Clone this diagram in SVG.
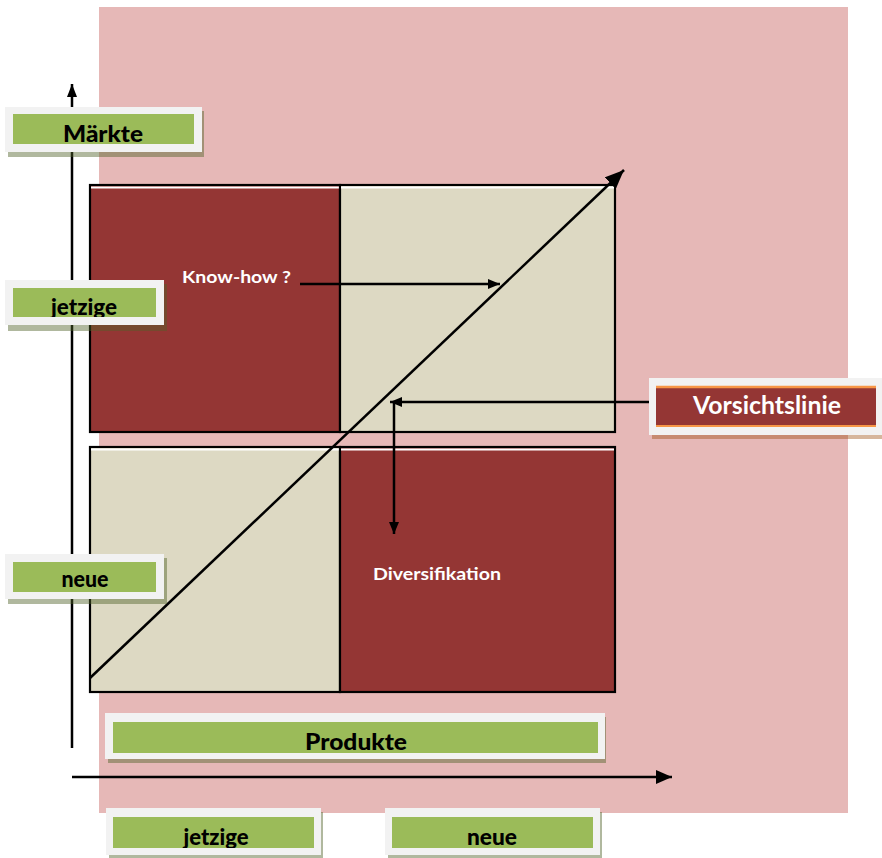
<svg xmlns="http://www.w3.org/2000/svg" width="882" height="858" viewBox="0 0 882 858">
  <style>
    .bg { fill: #E6B8B7; }
    .red { fill: #943634; stroke: #000; stroke-width: 2.2; }
    .beige { fill: #DDD9C3; stroke: #000; stroke-width: 2.2; }
    .hl { stroke: #fff; stroke-width: 2; }
    .outer { fill: #F2F2F2; }
    .shadow { fill: #4F6228; opacity: 0.45; }
    .shadowR { fill: #984807; opacity: 0.4; }
    .green { fill: #9BBB59; }
    .lbl { font-family: Lato, "Liberation Sans", sans-serif; font-weight: 900; fill: #000; text-anchor: middle; }
    .wht { font-family: Lato, "Liberation Sans", sans-serif; font-weight: bold; fill: #fff; }
    .ln { stroke: #000; stroke-width: 2.5; fill: none; }
  </style>
  <defs>
    <marker id="aX" markerUnits="userSpaceOnUse" markerWidth="16" markerHeight="14" refX="16" refY="7" orient="auto">
      <path d="M0,0 L16,7 L0,14 z" fill="#000"/>
    </marker>
    <marker id="aY" markerUnits="userSpaceOnUse" markerWidth="13" markerHeight="10" refX="13" refY="5" orient="auto">
      <path d="M0,0 L13,5 L0,10 z" fill="#000"/>
    </marker>
    <marker id="aD" markerUnits="userSpaceOnUse" markerWidth="19" markerHeight="16" refX="19" refY="8" orient="auto">
      <path d="M0,0 L19,8 L0,16 z" fill="#000"/>
    </marker>
    <marker id="aS" markerUnits="userSpaceOnUse" markerWidth="12" markerHeight="10" refX="12" refY="5" orient="auto">
      <path d="M0,0 L12,5 L0,10 z" fill="#000"/>
    </marker>
    <clipPath id="cM"><rect x="13" y="114" width="181" height="30"/></clipPath>
    <clipPath id="cJ"><rect x="13" y="288" width="143" height="29"/></clipPath>
    <clipPath id="cN"><rect x="13" y="562" width="143" height="30"/></clipPath>
    <clipPath id="cP"><rect x="113" y="722" width="485" height="31"/></clipPath>
    <clipPath id="cBJ"><rect x="113" y="817" width="201" height="31"/></clipPath>
    <clipPath id="cBN"><rect x="392" y="817" width="201" height="31"/></clipPath>
  </defs>

  <rect class="bg" x="99" y="7" width="749" height="806"/>

  <g id="matrix">
    <g id="cell-tl">
      <rect class="red" x="90" y="185" width="250" height="247"/>
      <line class="hl" x1="91" y1="187.5" x2="339" y2="187.5"/>
    </g>
    <g id="cell-tr">
      <rect class="beige" x="340" y="185" width="275" height="247"/>
      <line class="hl" x1="341" y1="187.5" x2="614" y2="187.5"/>
    </g>
    <g id="cell-bl">
      <rect class="beige" x="90" y="447" width="250" height="245"/>
      <line class="hl" x1="91" y1="449.5" x2="339" y2="449.5"/>
    </g>
    <g id="cell-br">
      <rect class="red" x="340" y="447" width="275" height="245"/>
      <line class="hl" x1="341" y1="449.5" x2="614" y2="449.5"/>
    </g>
  </g>

  <g id="connectors">
    <line class="ln" x1="72" y1="748" x2="72" y2="84" marker-end="url(#aY)"/>
    <line class="ln" x1="72" y1="777" x2="672" y2="777" marker-end="url(#aX)"/>
    <line class="ln" x1="90" y1="678" x2="624" y2="170" marker-end="url(#aD)"/>
    <line class="ln" x1="300" y1="284" x2="500" y2="284" marker-end="url(#aS)"/>
    <line class="ln" x1="652" y1="402" x2="390" y2="402" marker-end="url(#aS)"/>
    <line class="ln" x1="394" y1="402" x2="394" y2="534" marker-end="url(#aS)"/>
  </g>

  <g id="label-know-how">
    <text class="wht" x="182" y="283" font-size="17" textLength="109" lengthAdjust="spacingAndGlyphs">Know-how ?</text>
  </g>
  <g id="label-diversifikation">
    <text class="wht" x="373" y="580" font-size="17" textLength="128" lengthAdjust="spacingAndGlyphs">Diversifikation</text>
  </g>

  <g id="node-maerkte">
    <rect class="shadow" x="8" y="111" width="196" height="46"/>
    <rect class="outer" x="5" y="107" width="197" height="45"/>
    <rect class="green" x="13" y="114" width="181" height="30"/>
    <text class="lbl" x="103" y="142" font-size="23" textLength="80" lengthAdjust="spacingAndGlyphs" clip-path="url(#cM)">Märkte</text>
  </g>

  <g id="node-jetzige-y">
    <rect class="shadow" x="8" y="284" width="159" height="47"/>
    <rect class="outer" x="5" y="280" width="159" height="45"/>
    <rect class="green" x="13" y="288" width="143" height="29"/>
    <text class="lbl" x="84" y="315" font-size="22" textLength="66" lengthAdjust="spacingAndGlyphs" clip-path="url(#cJ)">jetzige</text>
  </g>

  <g id="node-neue-y">
    <rect class="shadow" x="8" y="558" width="159" height="46"/>
    <rect class="outer" x="5" y="554" width="159" height="45"/>
    <rect class="green" x="13" y="562" width="143" height="30"/>
    <text class="lbl" x="85" y="587" font-size="22" textLength="47" lengthAdjust="spacingAndGlyphs" clip-path="url(#cN)">neue</text>
  </g>

  <g id="node-vorsichtslinie">
    <rect class="shadowR" x="652" y="382" width="230" height="57"/>
    <rect class="outer" x="649" y="378" width="233" height="57"/>
    <rect x="656" y="386" width="220" height="41" fill="#943634"/>
    <line x1="656" y1="387" x2="876" y2="387" stroke="#F79646" stroke-width="2.5"/>
    <line x1="656" y1="426" x2="876" y2="426" stroke="#F79646" stroke-width="2"/>
    <text class="wht" x="767" y="414" font-size="24" text-anchor="middle" textLength="148" lengthAdjust="spacingAndGlyphs">Vorsichtslinie</text>
  </g>

  <g id="node-produkte">
    <rect class="shadow" x="108" y="717" width="498" height="46"/>
    <rect class="outer" x="105" y="713" width="500" height="46"/>
    <rect class="green" x="113" y="722" width="485" height="31"/>
    <text class="lbl" x="356" y="750" font-size="22" textLength="102" lengthAdjust="spacingAndGlyphs" clip-path="url(#cP)">Produkte</text>
  </g>

  <g id="node-jetzige-x">
    <rect class="shadow" x="109" y="812" width="214" height="46"/>
    <rect class="outer" x="106" y="808" width="215" height="47"/>
    <rect class="green" x="113" y="817" width="201" height="31"/>
    <text class="lbl" x="216" y="845" font-size="22" textLength="65" lengthAdjust="spacingAndGlyphs" clip-path="url(#cBJ)">jetzige</text>
  </g>

  <g id="node-neue-x">
    <rect class="shadow" x="388" y="812" width="214" height="46"/>
    <rect class="outer" x="385" y="808" width="215" height="47"/>
    <rect class="green" x="392" y="817" width="201" height="31"/>
    <text class="lbl" x="492" y="845" font-size="22" textLength="50" lengthAdjust="spacingAndGlyphs" clip-path="url(#cBN)">neue</text>
  </g>
</svg>
